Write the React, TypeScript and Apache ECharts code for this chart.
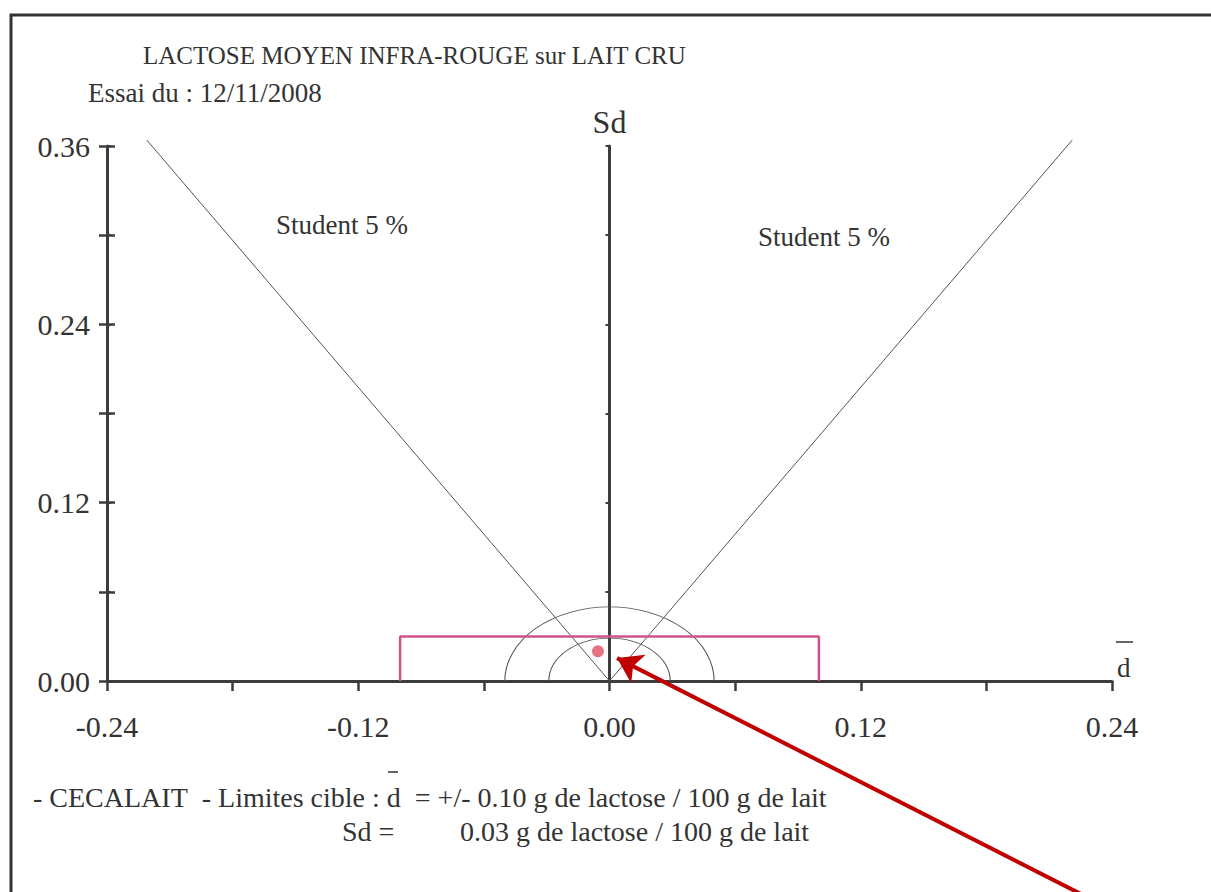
import React, { useEffect, useRef } from "react";
import * as echarts from "echarts";

// ---- data ----
const xRange = [-0.24, 0.24];
const yRange = [0, 0.36];
const tickStep = 0.06;
const labelStep = 0.12;
// Student 5 % limits (V through origin)
const studentLine = [
  [-0.221, 0.364],
  [0, 0],
  [0.221, 0.364],
];
// target box: d = +/- 0.10, Sd = 0.03
const targetBoxX = [-0.1, -0.1, 0.1, 0.1];
const targetBoxY = [0, 0.03, 0.03, 0];
// half circles centred at origin
const arcRadii = [0.05, 0.029];
// measured result (d, Sd)
const resultPoint = [[-0.0055, 0.02]];
// annotation arrow
const arrowFrom = [0.2342, -0.1498];
const arrowTo = [0.0036, 0.0154];

const titleText = "LACTOSE MOYEN INFRA-ROUGE sur LAIT CRU";
const dateText = "Essai du : 12/11/2008";
const studentText = "Student 5 %";
const noteLine1 = "- CECALAIT\u00a0\u00a0- Limites cible : d\u00a0\u00a0= +/- 0.10 g de lactose / 100 g de lait";
const noteLine2a = "Sd =";
const noteLine2b = "0.03 g de lactose / 100 g de lait";

const FONT = "'Liberation Serif', 'Times New Roman', serif";
const AX = "#3c3c3c";
const TXT = "#333333";

const isMajor = (v: number) => Math.abs(Math.round(v / labelStep) * labelStep - v) < 1e-9;

export default function App() {
  const ref = useRef<HTMLDivElement>(null);
  useEffect(() => {
    if (!ref.current) return;
    const chart = echarts.init(ref.current, null, { renderer: "svg" });
    const yBase = {
      type: "value",
      min: yRange[0],
      max: yRange[1],
      interval: tickStep,
      splitLine: { show: false },
    };
    const option: any = {
      animation: false,
      backgroundColor: "#ffffff",
      grid: { left: 107, right: 99, top: 146, bottom: 211, containLabel: false },
      xAxis: {
        type: "value",
        min: xRange[0],
        max: xRange[1],
        interval: tickStep,
        splitLine: { show: false },
        axisLine: { show: true, onZero: true, lineStyle: { color: AX, width: 3 } },
        axisTick: { show: true, length: 10, lineStyle: { color: AX, width: 2.5 } },
        axisLabel: {
          formatter: (v: number) => (isMajor(v) ? v.toFixed(2) : ""),
          fontFamily: FONT,
          fontSize: 30,
          color: TXT,
          margin: 30,
        },
        name: "d",
        nameLocation: "end",
        nameGap: 5,
        nameTextStyle: { fontFamily: FONT, fontSize: 27, color: TXT, verticalAlign: "bottom", align: "left" },
      },
      yAxis: [
        {
          ...yBase,
          position: "left",
          axisLine: { show: true, onZero: false, lineStyle: { color: AX, width: 3 } },
          axisTick: { show: true, length: 8, lineStyle: { color: AX, width: 2.5 } },
          axisLabel: {
            formatter: (v: number) => (isMajor(v) ? v.toFixed(2) : ""),
            fontFamily: FONT,
            fontSize: 30,
            color: TXT,
            margin: 17,
          },
        },
        {
          ...yBase,
          position: "left",
          axisLine: { show: false, onZero: false },
          axisTick: { show: true, inside: true, length: 8, lineStyle: { color: AX, width: 2.5 } },
          axisLabel: { show: false },
        },
        {
          ...yBase,
          position: "left",
          axisLine: { show: true, onZero: true, lineStyle: { color: AX, width: 3 } },
          axisTick: { show: true, length: 4, lineStyle: { color: AX, width: 2 } },
          axisLabel: { show: false },
          name: "Sd",
          nameLocation: "end",
          nameGap: 8,
          nameTextStyle: { fontFamily: FONT, fontSize: 32, color: TXT },
        },
        {
          ...yBase,
          position: "left",
          axisLine: { show: false, onZero: true },
          axisTick: { show: true, inside: true, length: 4, lineStyle: { color: AX, width: 2 } },
          axisLabel: { show: false },
        },
      ],
      series: [
        {
          type: "line",
          data: studentLine,
          symbol: "none",
          clip: false,
          lineStyle: { color: "#555555", width: 1 },
          z: 3,
        },
        {
          type: "line",
          data: targetBoxX.map((x, i) => [x, targetBoxY[i]]),
          symbol: "none",
          clip: false,
          lineStyle: { color: "#d4528c", width: 2.5 },
          z: 4,
        },
        {
          type: "custom",
          data: arcRadii.map((r) => [0, 0, r]),
          encode: { x: 0, y: 1 },
          clip: false,
          z: 3,
          renderItem: (params: any, api: any) => {
            const r = api.value(2);
            const c = api.coord([api.value(0), api.value(1)]);
            const sz = api.size([r, r]);
            return {
              type: "arc",
              shape: { cx: c[0], cy: c[1], r: sz[0], startAngle: Math.PI, endAngle: 2 * Math.PI, clockwise: true },
              scaleY: sz[1] / sz[0],
              originX: c[0],
              originY: c[1],
              style: { stroke: "#555555", fill: "none", lineWidth: 1.1, strokeNoScale: true },
            };
          },
        },
        {
          type: "scatter",
          data: resultPoint,
          symbol: "circle",
          symbolSize: 12,
          itemStyle: { color: "#e0505f" },
          z: 6,
        },
        {
          type: "lines",
          coordinateSystem: "cartesian2d",
          clip: false,
          symbol: ["none", "arrow"],
          symbolSize: 24,
          data: [{ coords: [arrowFrom, arrowTo] }],
          lineStyle: { color: "#c00000", width: 4, opacity: 1, curveness: 0 },
          z: 10,
        },
      ],
      graphic: [
        {
          type: "rect",
          shape: { x: 11, y: 15, width: 1400, height: 1000 },
          style: { fill: "none", stroke: "#333333", lineWidth: 3 },
          silent: true,
        },
        { type: "text", x: 143, y: 55, style: { text: titleText, font: `25px ${FONT}`, fill: TXT, verticalAlign: "middle" } },
        { type: "text", x: 88, y: 93, style: { text: dateText, font: `27px ${FONT}`, fill: TXT, verticalAlign: "middle" } },
        { type: "text", x: 276, y: 225, style: { text: studentText, font: `27px ${FONT}`, fill: TXT, verticalAlign: "middle" } },
        { type: "text", x: 758, y: 237, style: { text: studentText, font: `27px ${FONT}`, fill: TXT, verticalAlign: "middle" } },
        { type: "text", x: 33, y: 797, style: { text: noteLine1, font: `28px ${FONT}`, fill: TXT, verticalAlign: "middle" } },
        { type: "text", x: 342, y: 831, style: { text: noteLine2a, font: `28px ${FONT}`, fill: TXT, verticalAlign: "middle" } },
        { type: "text", x: 460, y: 831, style: { text: noteLine2b, font: `28px ${FONT}`, fill: TXT, verticalAlign: "middle" } },
        { type: "line", shape: { x1: 388, y1: 772, x2: 398, y2: 772 }, style: { stroke: TXT, lineWidth: 1.5 } },
        { type: "line", shape: { x1: 1116, y1: 642, x2: 1133, y2: 642 }, style: { stroke: TXT, lineWidth: 1.5 } },
      ],
    };
    chart.setOption(option);
    return () => chart.dispose();
  }, []);
  return <div ref={ref} style={{ position: "fixed", left: 0, top: 0, width: 1211, height: 892 }} />;
}
